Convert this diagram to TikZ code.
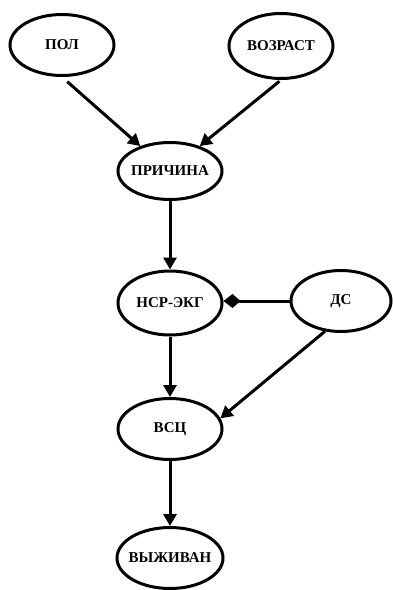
\documentclass[tikz,border=0pt]{standalone}
\usepackage{fontspec}
\setmainfont{Liberation Serif}
\usetikzlibrary{shapes.geometric,arrows.meta}

\begin{document}
\begin{tikzpicture}[x=1pt,y=-1pt,
  var/.style={draw,ellipse,line width=3pt,minimum width=104pt,minimum height=61pt,
    inner xsep=-12pt,inner ysep=0pt,font=\fontsize{15}{18}\selectfont\bfseries},
  link/.style={line width=3pt,-{Triangle[length=12pt,width=13pt]}},
  kitelink/.style={line width=3pt,-{Kite[length=17pt,width=14pt,inset=8pt]}}]
\useasboundingbox (0,0) rectangle (392,590);
\node[var] (pol) at (62,45) {ПОЛ};
\node[var,minimum height=65pt] (vozrast) at (281,46) {ВОЗРАСТ};
\node[var,minimum height=57pt] (prichina) at (170,171) {ПРИЧИНА};
\node[var,minimum height=64pt] (nsr) at (170,303) {НСР-ЭКГ};
\node[var,minimum width=100pt] (ds) at (341,301) {ДС};
\node[var] (vsc) at (170,429) {ВСЦ};
\node[var,minimum width=106pt] (vyzh) at (170,558) {ВЫЖИВАН};
\draw[link,shorten <=7pt] (pol.south) -- (prichina.140);
\draw[link,shorten <=2pt] (vozrast.south) -- (prichina.40);
\draw[link] (prichina) -- (nsr);
\draw[kitelink] (ds.west) -- (ds.west -| nsr.east);
\draw[link] (ds.-118) -- (vsc.12);
\draw[link] (nsr) -- (vsc);
\draw[link] (vsc) -- (vyzh);
\end{tikzpicture}
\end{document}
